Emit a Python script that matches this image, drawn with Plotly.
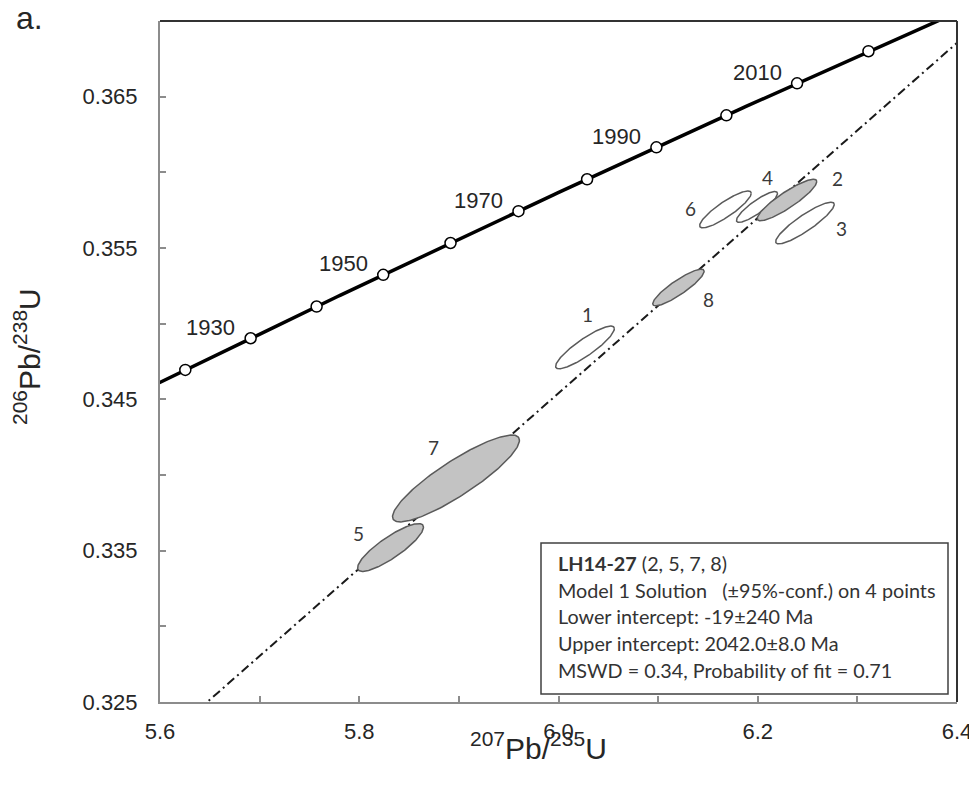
import numpy as np
import plotly.graph_objects as go

# ---------------- data ----------------
# concordia age marks (Ma)
concordia_ages = [1920, 1930, 1940, 1950, 1960, 1970, 1980, 1990, 2000, 2010, 2020]
labelled_ages = [1930, 1950, 1970, 1990, 2010]

# discordia intercepts (Ma)
lower_intercept = -19.0
upper_intercept = 2042.0

# analysis ellipses: 207Pb/235U centre, 206Pb/238U centre, half extents, error correlation
ell_labels = ["1", "2", "3", "4", "5", "6", "7", "8"]
ell_x = [6.0266, 6.2294, 6.2474, 6.1992, 5.8314, 6.1676, 5.8971, 6.1204]
ell_y = [0.34843, 0.35817, 0.35665, 0.35771, 0.33521, 0.35755, 0.33977, 0.35239]
ell_ex = [0.0295, 0.0299, 0.0294, 0.0206, 0.0331, 0.0259, 0.0637, 0.0258]
ell_ey = [0.00141, 0.00137, 0.00138, 0.00102, 0.00158, 0.00122, 0.00287, 0.00121]
ell_rho = [0.880, 0.890, 0.890, 0.870, 0.850, 0.875, 0.880, 0.885]
ell_used = [False, True, False, False, True, False, True, True]   # points in the regression

x_tickvals = [5.6, 5.7, 5.8, 5.9, 6.0, 6.1, 6.2, 6.3, 6.4]
x_ticktext = ["5.6", "", "5.8", "", "6.0", "", "6.2", "", "6.4"]
y_tickvals = [0.325, 0.330, 0.335, 0.340, 0.345, 0.350, 0.355, 0.360, 0.365]
y_ticktext = ["0.325", "", "0.335", "", "0.345", "", "0.355", "", "0.365"]

info_lines = [
    "<b>LH14-27</b> (2, 5, 7, 8)",
    "Model 1 Solution \u00a0\u00a0(±95%-conf.) on 4 points",
    "Lower intercept: -19±240 Ma",
    "Upper intercept: 2042.0±8.0 Ma",
    "MSWD = 0.34, Probability of fit = 0.71",
]

# ---------------- model ----------------
L238 = 1.55125e-10
L235 = 9.8485e-10


def r206(t_ma):
    return np.exp(L238 * np.asarray(t_ma) * 1e6) - 1


def r207(t_ma):
    return np.exp(L235 * np.asarray(t_ma) * 1e6) - 1


# figure geometry (screen pixels; page body has an 8px margin)
OFF = 8
W, H = 977 - OFF, 786 - OFF
PL, PR, PT, PB = 160, 957, 21, 702          # plot area on screen
ML, MT = PL - OFF, PT - OFF
MR, MB = W - (PR - OFF), H - (PB - OFF)
PW, PH = PR - PL, PB - PT


def px(xp, yp):
    return (xp - PL) / PW, (PB - yp) / PH


fig = go.Figure()

# discordia
dx = [float(r207(lower_intercept)), float(r207(upper_intercept))]
dy = [float(r206(lower_intercept)), float(r206(upper_intercept))]
fig.add_trace(go.Scatter(x=dx, y=dy, mode="lines",
                         line=dict(color="#1a1a1a", width=2, dash="9px,4px,2px,4px"),
                         hoverinfo="skip"))

# concordia curve
tc = np.linspace(1880, 2060, 400)
fig.add_trace(go.Scatter(x=r207(tc), y=r206(tc), mode="lines",
                         line=dict(color="black", width=3.5), hoverinfo="skip"))
fig.add_trace(go.Scatter(x=r207(concordia_ages), y=r206(concordia_ages), mode="markers",
                         marker=dict(size=11, color="white", line=dict(color="black", width=1.5)),
                         hoverinfo="skip"))

# ellipses (open first, then filled)
theta = np.linspace(0, 2 * np.pi, 200)
for filled_pass in (False, True):
    for i in range(len(ell_labels)):
        if ell_used[i] != filled_pass:
            continue
        r = ell_rho[i]
        ex_ = ell_x[i] + ell_ex[i] * np.cos(theta)
        ey_ = ell_y[i] + ell_ey[i] * (r * np.cos(theta) + np.sqrt(1 - r * r) * np.sin(theta))
        fig.add_trace(go.Scatter(
            x=ex_, y=ey_, mode="lines", fill="toself",
            fillcolor="#c3c3c3" if filled_pass else "rgba(255,255,255,0)",
            line=dict(color="#5a5a5a", width=1.5), hoverinfo="skip"))

annotations = []
# ellipse labels (pixel offsets from ellipse centre)
label_shift = {"1": (2, 33), "2": (50, 22), "3": (37, -5), "4": (11, 29),
               "5": (-32, 14), "6": (-35, 1), "7": (-22, 31), "8": (30, -12)}
for i, lab in enumerate(ell_labels):
    sx, sy = label_shift[lab]
    annotations.append(dict(x=ell_x[i], y=ell_y[i], xref="x", yref="y", text=lab,
                            showarrow=False, xshift=sx, yshift=sy,
                            font=dict(family="Lato, Liberation Sans", size=19, color="#3a3a3a")))
# age labels
for a in labelled_ages:
    annotations.append(dict(x=float(r207(a)), y=float(r206(a)), xref="x", yref="y",
                            text=str(a), showarrow=False, xshift=-40, yshift=11,
                            font=dict(family="Liberation Sans, Arial", size=22, color="#262626")))

# info box text
for k, line in enumerate(info_lines):
    xp, yp = px(556, 563 + k * 26.7)
    annotations.append(dict(x=xp, y=yp, xref="paper", yref="paper", text=line,
                            showarrow=False, xanchor="left", yanchor="middle",
                            font=dict(family="Lato, Liberation Sans", size=19.8, color="#333333")))

# panel label and axis titles
xa, ya = px(29, 18)
annotations.append(dict(x=xa, y=ya, xref="paper", yref="paper", text="a.", showarrow=False,
                        xanchor="center", yanchor="middle",
                        font=dict(family="Liberation Sans, Arial", size=32, color="#262626")))
xa, ya = px(538, 746)
annotations.append(dict(x=xa, y=ya, xref="paper", yref="paper",
                        text="<sup>207</sup>Pb/<sup>235</sup>U", showarrow=False,
                        xanchor="center", yanchor="middle",
                        font=dict(family="Liberation Sans, Arial", size=30, color="#262626")))
xa, ya = px(27, 357)
annotations.append(dict(x=xa, y=ya, xref="paper", yref="paper", textangle=-90,
                        text="<sup>206</sup>Pb/<sup>238</sup>U", showarrow=False,
                        xanchor="center", yanchor="middle",
                        font=dict(family="Liberation Sans, Arial", size=30, color="#262626")))

bx0, by0 = px(541, 694)
bx1, by1 = px(948, 543)
shapes = [
    dict(type="rect", xref="paper", yref="paper", x0=bx0, y0=by0, x1=bx1, y1=by1,
         line=dict(color="#404040", width=1.5), fillcolor="white", layer="above"),
    dict(type="line", xref="paper", yref="paper", x0=0, y0=1, x1=1, y1=1,
         line=dict(color="#333333", width=2)),
    dict(type="line", xref="paper", yref="paper", x0=1, y0=0, x1=1, y1=1,
         line=dict(color="#333333", width=2)),
]

axis_common = dict(showgrid=False, zeroline=False, showline=True, linecolor="#8c8c8c",
                   linewidth=2, ticks="inside", ticklen=6, tickwidth=1.5, tickcolor="#8c8c8c",
                   automargin=False,
                   tickfont=dict(family="Liberation Sans, Arial", size=22, color="#262626"))

fig.update_layout(
    width=W, height=H, margin=dict(l=ML, r=MR, t=MT, b=MB),
    paper_bgcolor="white", plot_bgcolor="white", showlegend=False,
    xaxis=dict(range=[5.6, 6.4], tickvals=x_tickvals, ticktext=x_ticktext,
               ticklabelstandoff=9, **axis_common),
    yaxis=dict(range=[0.325, 0.370], tickvals=y_tickvals, ticktext=y_ticktext,
               ticklabelstandoff=16, **axis_common),
    annotations=annotations, shapes=shapes,
)

fig.write_html("out.html")
